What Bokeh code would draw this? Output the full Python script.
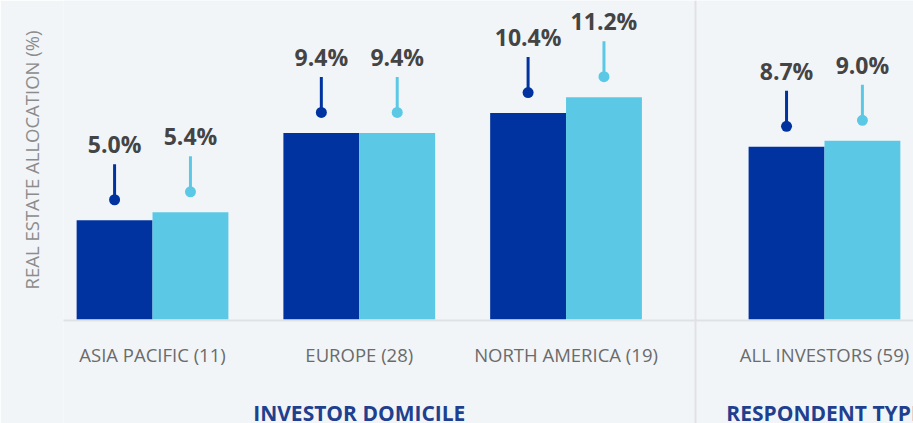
from bokeh.plotting import figure
from bokeh.models import ColumnDataSource, FactorRange, Range1d, BoxAnnotation, Title
from bokeh.transform import dodge
from bokeh.core.properties import value
from bokeh.embed import file_html
from bokeh.resources import INLINE

# ---------------- data ----------------
groups = ["INVESTOR DOMICILE", "INVESTOR DOMICILE", "INVESTOR DOMICILE", "RESPONDENT TYPE"]
categories = ["ASIA PACIFIC (11)", "EUROPE (28)", "NORTH AMERICA (19)", "ALL INVESTORS (59)"]
series_dark = [5.0, 9.4, 10.4, 8.7]
series_light = [5.4, 9.4, 11.2, 9.0]
group_titles = ["INVESTOR DOMICILE", "RESPONDENT TYPE"]
y_axis_title = "REAL ESTATE ALLOCATION (%)"

# ---------------- style / layout ----------------
BG = "#f2f5f8"
DARK = "#0033a0"
LIGHT = "#5bc9e6"
VALUE_COLOR = "#444444"
CAT_COLOR = "#6b6b6b"
YLAB_COLOR = "#8c8c8c"
TITLE_COLOR = "#1f3f8f"
LINE_COLOR = "#dfe1e4"
FONT = "Open Sans"

W, H = 913, 423
LEFT_BORDER = 62
PPU = 19.85          # pixels per percentage point
BASE = 319           # baseline, px from plot top
PX_PER_FACTOR = 207
GROUP_PAD = 0.25
BAR_W = 0.367
OFF = BAR_W / 2

factors = list(zip(groups, categories))
span_units = len(factors) + GROUP_PAD * (len(group_titles) - 1)
visible_units = (W - LEFT_BORDER) / PX_PER_FACTOR
x_range = FactorRange(*factors, group_padding=GROUP_PAD, factor_padding=0,
                      range_padding=(visible_units - span_units) / span_units)
y_range = Range1d(-(H - BASE) / PPU, BASE / PPU)

p = figure(width=W, height=H, x_range=x_range, y_range=y_range,
           output_backend="svg", toolbar_location=None,
           min_border_left=LEFT_BORDER, min_border_right=0,
           min_border_top=0, min_border_bottom=0,
           background_fill_color=BG, border_fill_color=BG,
           outline_line_color=None)
p.xaxis.visible = False
p.yaxis.visible = False
p.grid.visible = False

src = ColumnDataSource(dict(
    x=factors,
    dark=series_dark,
    light=series_light,
    dark_lbl=[f"{v:.1f}%" for v in series_dark],
    light_lbl=[f"{v:.1f}%" for v in series_light],
    cat=categories,
))

# group separator
sep_src = ColumnDataSource(dict(x=[f for f in factors if f[0] == group_titles[1]][:1]))
p.vspan(x=dodge("x", -(1 + GROUP_PAD) / 2, range=p.x_range), source=sep_src,
        line_color=LINE_COLOR, line_width=2)

# baseline
p.add_layout(BoxAnnotation(left=16, left_units="canvas", top=0, bottom=-2 / PPU,
                           fill_color=LINE_COLOR, fill_alpha=1, line_color=None))

for field, color, sign in (("dark", DARK, -1), ("light", LIGHT, 1)):
    xs = dodge("x", sign * OFF, range=p.x_range)
    p.vbar(x=xs, top=field, bottom=0, width=BAR_W, source=src,
           fill_color=color, line_color=None)
    p.segment(x0=xs, x1=xs, y0=dodge(field, 20 / PPU), y1=dodge(field, 56 / PPU),
              source=src, line_color=color, line_width=3)
    p.scatter(x=xs, y=dodge(field, 20.5 / PPU), size=11, source=src,
              fill_color=color, line_color=None)
    p.text(x=xs, y=field, text=field + "_lbl", source=src, y_offset=-76,
           text_align="center", text_baseline="alphabetic",
           text_font=value(FONT), text_font_style="bold",
           text_font_size="23px", text_color=VALUE_COLOR)

# category labels
p.text(x="x", y=0, text="cat", source=src, y_offset=34.5,
       text_align="center", text_baseline="middle",
       text_font=value(FONT), text_font_size="18.5px", text_color=CAT_COLOR)

# group titles
gsrc = ColumnDataSource(dict(x=group_titles, t=group_titles))
p.text(x="x", y=0, text="t", source=gsrc, y_offset=93,
       text_align="center", text_baseline="alphabetic",
       text_font=value(FONT), text_font_style="bold",
       text_font_size="21px", text_color=TITLE_COLOR)

# y axis title
p.add_layout(Title(text=y_axis_title, align="right", offset=30,
                   vertical_align="top",
                   text_font=FONT, text_font_size="18.5px", text_font_style="normal",
                   text_color=YLAB_COLOR, standoff=36), "left")

open("out.html", "w").write(file_html(p, INLINE))
